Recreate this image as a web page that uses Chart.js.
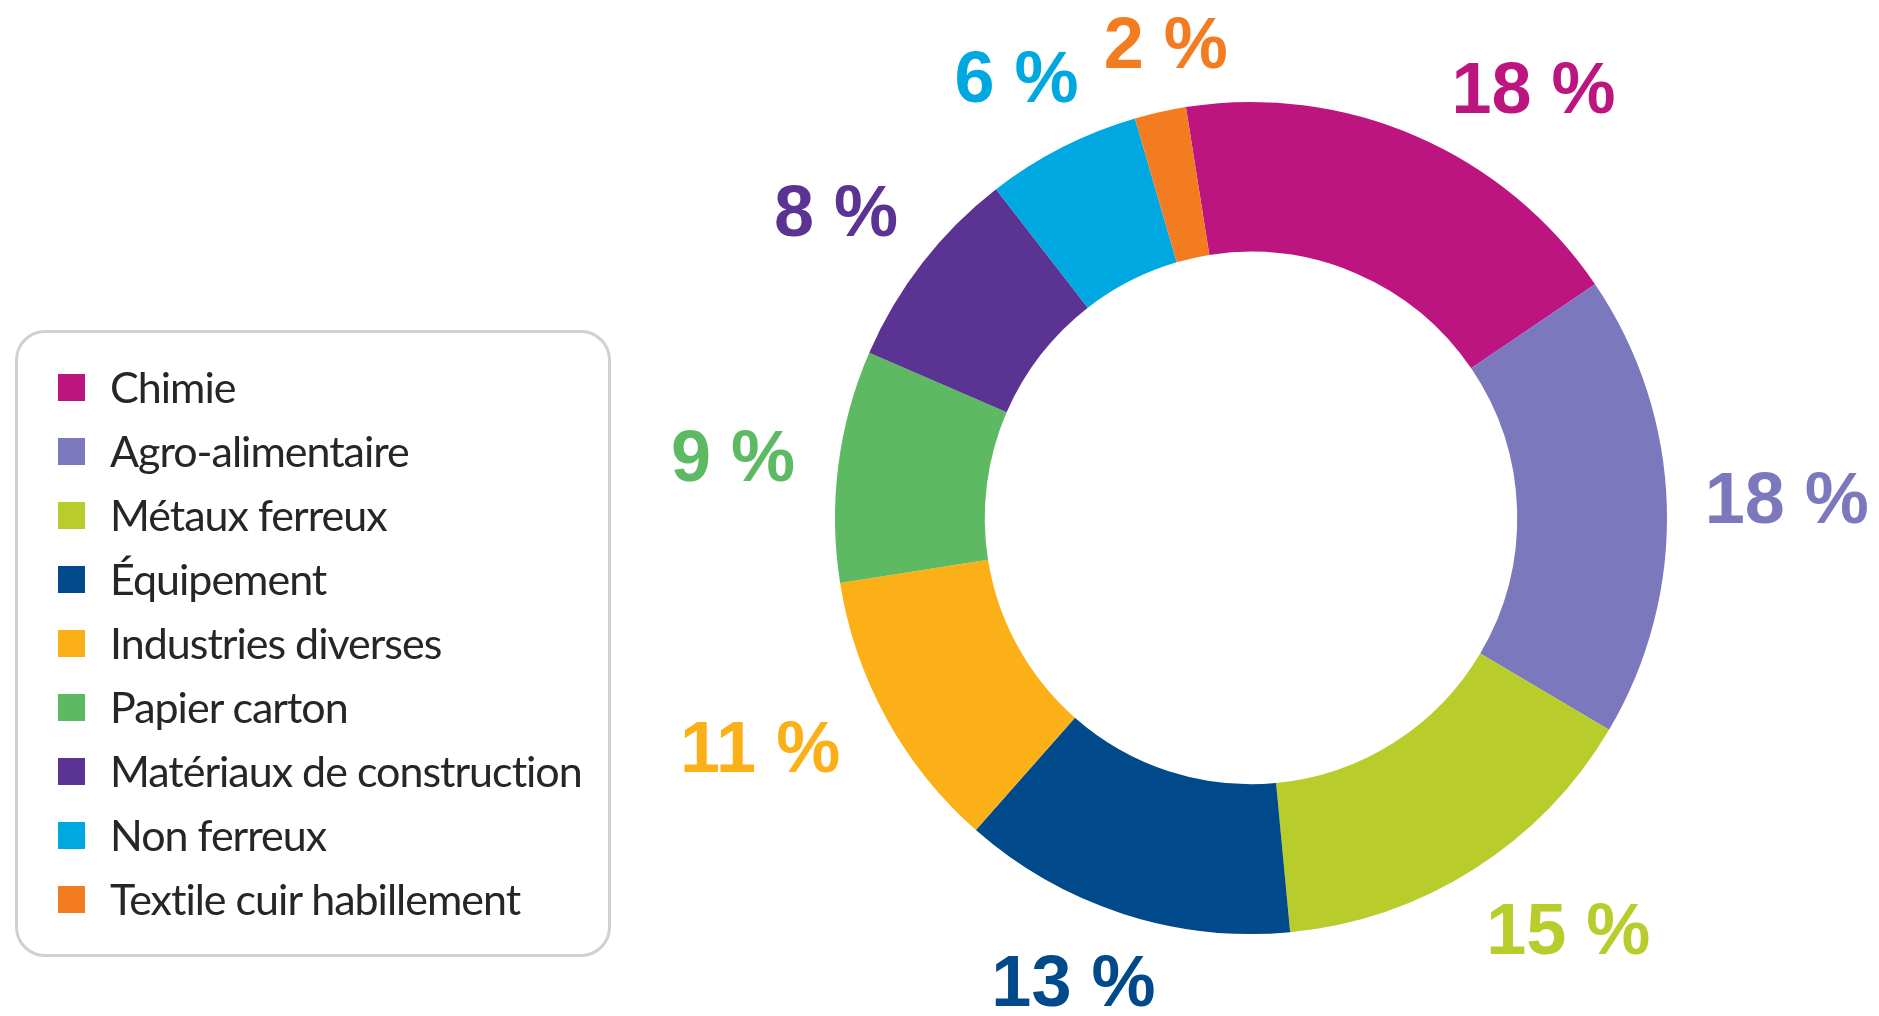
<!DOCTYPE html>
<html lang="fr">
<head>
<meta charset="utf-8">
<title>Répartition par secteur</title>
<script src="https://cdn.jsdelivr.net/npm/chart.js@4/dist/chart.umd.min.js"></script>
<style>
  html, body { margin: 0; padding: 0; background: #fff; }
  #wrap { position: relative; width: 1879px; height: 1016px; overflow: hidden; }
  #secteurs { position: absolute; left: 0; top: 0; }
  #legende {
    position: absolute; left: 15px; top: 330px; width: 596px; height: 627px;
    box-sizing: border-box; border: 3px solid #d0d0d0; border-radius: 30px;
    padding: 22px 0 0 40px;
    font-family: Lato, "Liberation Sans", sans-serif; font-size: 43px;
    letter-spacing: -1px; color: #262626;
  }
  #legende ul { list-style: none; margin: 0; padding: 0; }
  #legende li { height: 64px; line-height: 64px; white-space: nowrap; display: flex; align-items: center; }
  #legende .pastille { width: 27px; height: 27px; margin-right: 25px; flex: none; }
</style>
</head>
<body>
<div id="wrap">
  <canvas id="secteurs" width="1879" height="1016"></canvas>
  <div id="legende"></div>
</div>
<script>
const secteurs = [
  "Chimie",
  "Agro-alimentaire",
  "Métaux ferreux",
  "Équipement",
  "Industries diverses",
  "Papier carton",
  "Matériaux de construction",
  "Non ferreux",
  "Textile cuir habillement"
];
const parts = [18, 18, 15, 13, 11, 9, 8, 6, 2];
const couleurs = [
  "#bd1580", "#7b78bd", "#b8cd2c", "#00498a", "#fbb018",
  "#5dba63", "#5b3393", "#00a8e1", "#f47c20"
];

// pourcentages écrits autour de l'anneau, au milieu de chaque part
const etiquettes = {
  id: "etiquettes",
  afterDatasetsDraw(chart, args, opts) {
    const ctx = chart.ctx;
    const ds = chart.data.datasets[0];
    ctx.save();
    ctx.font = opts.font;
    ctx.textAlign = "center";
    ctx.textBaseline = "middle";
    chart.getDatasetMeta(0).data.forEach((arc, i) => {
      const p = arc.getProps(["x", "y", "startAngle", "endAngle", "outerRadius"], true);
      const mid = (p.startAngle + p.endAngle) / 2;
      const r = p.outerRadius + opts.ecart;
      const d = opts.decalages[i] || [0, 0];
      ctx.fillStyle = ds.backgroundColor[i];
      ctx.fillText(ds.data[i] + "\u00a0%", p.x + Math.cos(mid) * r + d[0], p.y + Math.sin(mid) * r + d[1]);
    });
    ctx.restore();
  }
};

// légende en HTML, construite à partir des items de Chart.js
const legendeHtml = {
  id: "legendeHtml",
  afterUpdate(chart) {
    const box = document.getElementById("legende");
    const items = chart.options.plugins.legend.labels.generateLabels(chart);
    const ul = document.createElement("ul");
    items.forEach(item => {
      const li = document.createElement("li");
      const sq = document.createElement("span");
      sq.className = "pastille";
      sq.style.background = item.fillStyle;
      li.appendChild(sq);
      li.appendChild(document.createTextNode(item.text));
      ul.appendChild(li);
    });
    box.innerHTML = "";
    box.appendChild(ul);
  }
};

new Chart(document.getElementById("secteurs"), {
  type: "doughnut",
  data: {
    labels: secteurs,
    datasets: [{
      data: parts,
      backgroundColor: couleurs,
      borderWidth: 0
    }]
  },
  options: {
    responsive: false,
    animation: false,
    rotation: -9,
    cutout: "64%",
    layout: { padding: { left: 835, right: 212, top: 102, bottom: 82 } },
    plugins: {
      legend: { display: false },
      tooltip: { enabled: false },
      etiquettes: {
        font: '700 72px "Liberation Sans", Arial, sans-serif',
        ecart: 94,
        decalages: [[80, 43], [26, 1], [44, -14], [-20, -17], [-44, -12], [-12, 7], [-12, 11], [-3, 19], [26, 28]]
      }
    }
  },
  plugins: [etiquettes, legendeHtml]
});
</script>
</body>
</html>
